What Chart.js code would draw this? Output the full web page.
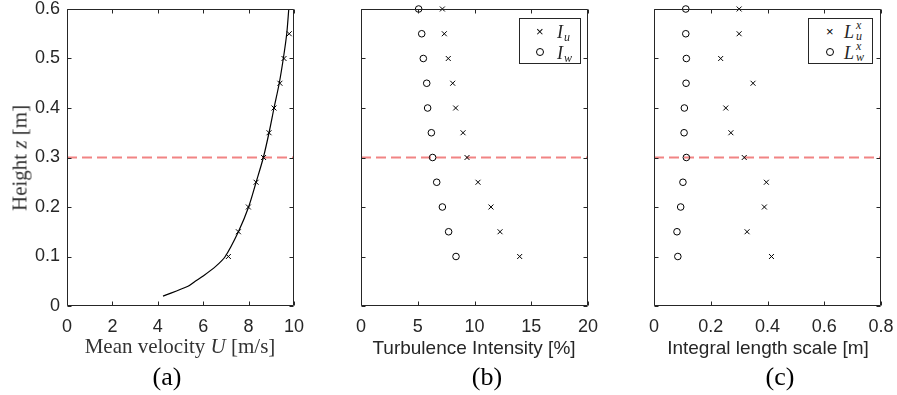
<!DOCTYPE html>
<html>
<head>
<meta charset="utf-8">
<script src="https://cdn.jsdelivr.net/npm/chart.js@4/dist/chart.umd.min.js"></script>
<style>
  body { margin: 0; background: #fff; }
  #wrap { position: relative; width: 897px; height: 395px; overflow: hidden; font-family: "Liberation Sans", Arial, sans-serif; }
  canvas { position: absolute; top: 0; }
  .t { position: absolute; white-space: nowrap; line-height: 21px; }
  .serif { font-family: "Liberation Serif", "Times New Roman", serif; font-size: 21px; color: #333; }
  .sans { font-size: 19px; line-height: 19px; color: #262626; }
  .cap { position: absolute; font-family: "Liberation Serif", serif; font-size: 26px; line-height: 26px; color: #000; transform: translateX(-50%); }
  .legend { position: absolute; border: 1px solid #262626; background: #fff; box-sizing: border-box; }
  .mk { position: absolute; font-size: 13px; line-height: 12px; color: #000; }
  .ring { position: absolute; width: 6px; height: 6px; border: 1px solid #000; border-radius: 50%; }
  .sym { position: absolute; font-family: "Liberation Serif", serif; font-style: italic; font-size: 18px; line-height: 18px; color: #262626; }
  .sm { position: absolute; font-family: "Liberation Serif", serif; font-style: italic; font-size: 12px; line-height: 12px; color: #262626; }
</style>
</head>
<body>
<div id="wrap">
  <canvas id="ca" width="330" height="395" style="left:0px"></canvas>
  <canvas id="cb" width="330" height="395" style="left:300px"></canvas>
  <canvas id="cc" width="297" height="395" style="left:600px"></canvas>

  <div class="t serif" style="left:20px;top:158px;transform:translate(-50%,-50%) rotate(-90deg);">Height <i>z</i> [m]</div>
  <div class="t serif" style="left:180px;top:336px;transform:translateX(-50%);">Mean velocity <i>U</i> [m/s]</div>
  <div class="t sans" style="left:474px;top:338px;transform:translateX(-50%);">Turbulence Intensity [%]</div>
  <div class="t sans" style="left:768px;top:338px;transform:translateX(-50%);">Integral length scale [m]</div>

  <div class="cap" style="left:167px;top:364px;">(a)</div>
  <div class="cap" style="left:487px;top:364px;">(b)</div>
  <div class="cap" style="left:780px;top:364px;">(c)</div>

  <div class="legend" style="left:519px;top:18px;width:62px;height:46px;">
    <span class="mk" style="left:16px;top:7px;">&times;</span>
    <span class="sym" style="left:37px;top:4px;">I</span><span class="sm" style="left:44px;top:12px;">u</span>
    <span class="ring" style="left:16px;top:29px;"></span>
    <span class="sym" style="left:37px;top:25px;">I</span><span class="sm" style="left:44px;top:33px;">w</span>
  </div>
  <div class="legend" style="left:808px;top:18px;width:65px;height:46px;">
    <span class="mk" style="left:17px;top:7px;">&times;</span>
    <span class="sym" style="left:35px;top:4px;">L</span><span class="sm" style="left:47px;top:0px;">x</span><span class="sm" style="left:47px;top:11px;">u</span>
    <span class="ring" style="left:17px;top:29px;"></span>
    <span class="sym" style="left:35px;top:25px;">L</span><span class="sm" style="left:47px;top:21px;">x</span><span class="sm" style="left:47px;top:32px;">w</span>
  </div>
</div>

<script>
// measurement heights (m)
const heights = [0.1, 0.15, 0.2, 0.25, 0.3, 0.35, 0.4, 0.45, 0.5, 0.55, 0.6];
const velHeights = [0.1, 0.15, 0.2, 0.25, 0.3, 0.35, 0.4, 0.45, 0.5, 0.55];

// (a) mean velocity
const velMeasured = [7.11, 7.55, 7.99, 8.33, 8.66, 8.90, 9.12, 9.38, 9.56, 9.79];
const profileZ = [0.02, 0.04, 0.05, 0.06, 0.08, 0.1, 0.15, 0.2, 0.25, 0.3, 0.35, 0.4, 0.45, 0.5, 0.55, 0.6];
const profileU = [4.23, 5.33, 5.65, 5.98, 6.55, 6.97, 7.55, 8.0, 8.33, 8.65, 8.9, 9.12, 9.35, 9.53, 9.68, 9.77];

// (b) turbulence intensity (%)
const intensityU = [13.98, 12.25, 11.45, 10.31, 9.34, 8.99, 8.34, 8.08, 7.69, 7.34, 7.17];
const intensityW = [8.37, 7.72, 7.17, 6.67, 6.31, 6.2, 5.87, 5.79, 5.49, 5.35, 5.08];

// (c) integral length scale (m)
const lengthU = [0.414, 0.328, 0.389, 0.396, 0.318, 0.271, 0.253, 0.349, 0.235, 0.300, 0.300];
const lengthW = [0.084, 0.081, 0.094, 0.102, 0.114, 0.106, 0.107, 0.113, 0.114, 0.112, 0.112];

const refHeight = 0.3;

const yTicks = [0, 0.1, 0.2, 0.3, 0.4, 0.5, 0.6];
const xTicksA = [0, 2, 4, 6, 8, 10];
const xTicksB = [0, 5, 10, 15, 20];
const xTicksC = [0, 0.2, 0.4, 0.6, 0.8];

Chart.defaults.font.family = '"Liberation Sans", Arial, sans-serif';
Chart.defaults.font.size = 18;
Chart.defaults.color = '#262626';

const pts = (xs, ys) => xs.map((x, i) => ({ x: x, y: ys[i] }));

// box round the plot area, ticks pointing inwards on all four sides
const frame = {
  id: 'frame',
  afterDraw(chart) {
    const { ctx, chartArea: a, scales: { x, y } } = chart;
    const L = Math.round(a.left) + 0.5, R = Math.round(a.right) - 0.5;
    const T = Math.round(a.top) + 0.5, B = Math.round(a.bottom) - 0.5;
    ctx.save();
    ctx.strokeStyle = '#262626';
    ctx.lineWidth = 1;
    ctx.beginPath();
    ctx.rect(L, T, R - L, B - T);
    x.ticks.forEach(t => {
      const px = Math.round(x.getPixelForValue(t.value)) + 0.5;
      ctx.moveTo(px, B); ctx.lineTo(px, B - 4);
      ctx.moveTo(px, T); ctx.lineTo(px, T + 4);
    });
    y.ticks.forEach(t => {
      const py = Math.round(y.getPixelForValue(t.value)) + 0.5;
      ctx.moveTo(L, py); ctx.lineTo(L + 4, py);
      ctx.moveTo(R, py); ctx.lineTo(R - 4, py);
    });
    ctx.stroke();
    ctx.restore();
  }
};

function refLine(xmin, xmax) {
  return {
    type: 'line',
    data: [{ x: xmin, y: refHeight }, { x: xmax, y: refHeight }],
    borderColor: 'rgba(238,110,110,0.85)',
    borderWidth: 2,
    borderDash: [10, 5],
    pointRadius: 0,
    order: 10
  };
}

function crosses(data) {
  return { data: data, pointStyle: 'crossRot', pointRadius: 3.5, borderColor: '#000', borderWidth: 1, backgroundColor: '#000', clip: false, order: 1 };
}
function rings(data) {
  return { data: data, pointStyle: 'circle', pointRadius: 3.3, borderColor: '#000', borderWidth: 1, backgroundColor: 'rgba(0,0,0,0)', clip: false, order: 1 };
}

function makeChart(id, datasets, xmin, xmax, xTicks, yWidth, padRight, showY) {
  return new Chart(document.getElementById(id), {
    type: 'scatter',
    data: { datasets: datasets },
    options: {
      responsive: false,
      animation: false,
      layout: { padding: { left: 0, top: 9, right: padRight, bottom: 0 } },
      plugins: { legend: { display: false }, tooltip: { enabled: false } },
      scales: {
        x: {
          type: 'linear', min: xmin, max: xmax,
          grid: { display: false, drawTicks: false }, border: { display: false },
          ticks: { padding: 10, maxRotation: 0, autoSkip: false, callback: v => String(v) },
          afterBuildTicks: s => { s.ticks = xTicks.map(v => ({ value: v })); },
          afterFit: s => { s.height = 89; s.paddingLeft = 0; s.paddingRight = 0; }
        },
        y: {
          type: 'linear', min: 0, max: 0.6,
          grid: { display: false, drawTicks: false }, border: { display: false },
          ticks: { display: showY, padding: 7, autoSkip: false, callback: v => String(v) },
          afterBuildTicks: s => { s.ticks = yTicks.map(v => ({ value: v })); },
          afterFit: s => { s.width = yWidth; s.paddingTop = 0; s.paddingBottom = 0; }
        }
      }
    },
    plugins: [frame]
  });
}

makeChart('ca', [
  refLine(0, 10),
  { type: 'line', data: pts(profileU, profileZ), borderColor: '#000', borderWidth: 1.2, pointRadius: 0, tension: 0.3, order: 2 },
  crosses(pts(velMeasured, velHeights))
], 0, 10, xTicksA, 67, 36, true);

makeChart('cb', [
  refLine(0, 20),
  crosses(pts(intensityU, heights)),
  rings(pts(intensityW, heights))
], 0, 20, xTicksB, 61, 42, false);

makeChart('cc', [
  refLine(0, 0.8),
  crosses(pts(lengthU, heights)),
  rings(pts(lengthW, heights))
], 0, 0.8, xTicksC, 54, 16, false);
</script>
</body>
</html>
